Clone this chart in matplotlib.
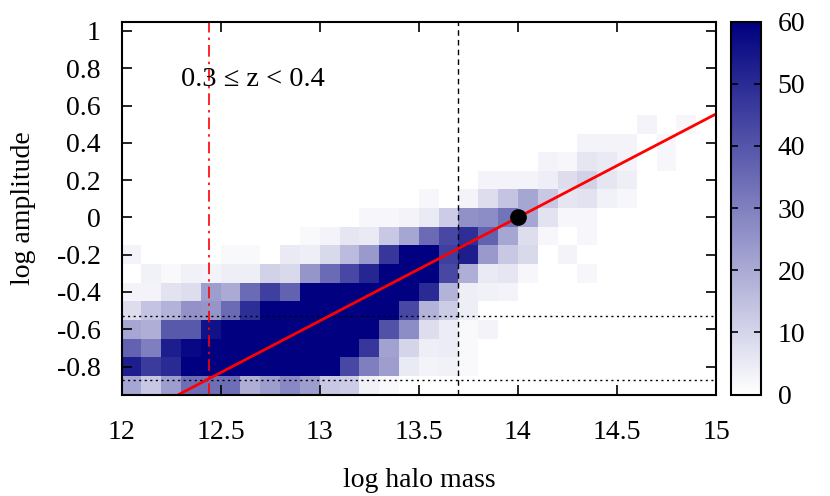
import numpy as np
import matplotlib
matplotlib.use("Agg")
from matplotlib import pyplot as plt
from matplotlib.colors import LinearSegmentedColormap

plt.rcParams['font.family'] = ['Liberation Serif', 'DejaVu Serif']
plt.rcParams['axes.unicode_minus'] = False
plt.rcParams['font.size'] = 20

# bins: 30 columns in log halo mass (12.0 .. 15.0, width 0.1)
mass_edges = np.round(np.arange(12.0, 15.001, 0.1), 2)
# rows in log amplitude, centres -0.9 .. 0.5 (width 0.1)
amp_edges = np.round(np.arange(-0.95, 0.551, 0.1), 2)

# counts per row (left to right), 75 = saturated (> 60)
row_m09 = [21, 13, 23, 34, 34, 34, 19, 23, 28, 23, 13, 12, 3.5, 1.5, 0, 0, 0, 0, 0, 0, 0, 0, 0, 0, 0, 0, 0, 0, 0, 0]
row_m08 = [53, 46, 50, 75, 75, 75, 75, 75, 75, 75, 75, 43, 30, 23, 5, 3, 3.5, 1.5, 0, 0, 0, 0, 0, 0, 0, 0, 0, 0, 0, 0]
row_m07 = [37, 30, 53, 58, 75, 75, 75, 75, 75, 75, 75, 75, 47, 22, 10, 4, 4.5, 1.5, 0, 0, 0, 0, 0, 0, 0, 0, 0, 0, 0, 0]
row_m06 = [21, 19, 39, 39, 56, 75, 75, 75, 75, 75, 75, 75, 75, 41, 27, 8, 4.5, 1.5, 3, 0, 0, 0, 0, 0, 0, 0, 0, 0, 0, 0]
row_m05 = [8, 14, 18, 25.6, 25, 35, 49, 75, 75, 75, 75, 75, 75, 75, 43, 18, 12, 4, 0, 0, 0, 0, 0, 0, 0, 0, 0, 0, 0, 0]
row_m04 = [3, 3, 7, 8, 23, 20, 35, 45, 37, 75, 75, 75, 75, 75, 75, 50, 18, 4, 3.5, 3, 0, 0, 0, 0, 0, 0, 0, 0, 0, 0]
row_m03 = [0, 3.5, 1.5, 3.5, 3, 4, 4, 11, 9, 25, 35, 43, 51, 75, 75, 75, 43, 19, 5, 6, 2, 0, 0, 2, 0, 0, 0, 0, 0, 0]
row_m02 = [3, 0, 0, 0, 0, 1.5, 1.5, 0, 5, 4, 9, 16, 24, 47, 75, 62, 45, 53, 24, 13, 9, 0, 3, 0, 0, 0, 0, 0, 0, 0]
row_m01 = [0, 0, 0, 0, 0, 0, 0, 0, 0, 1.5, 3, 6, 5, 13, 21, 35, 43, 49, 37, 21, 8, 2, 0, 2, 0, 0, 0, 0, 0, 0]
row_p00 = [0, 0, 0, 0, 0, 0, 0, 0, 0, 0, 0, 0, 2, 2, 3, 5, 12, 26, 27, 33, 21, 7, 2, 2, 0, 0, 0, 0, 0, 0]
row_p01 = [0, 0, 0, 0, 0, 0, 0, 0, 0, 0, 0, 0, 0, 0, 0, 2, 0, 3, 8, 14, 21, 13, 6, 7, 3.5, 2, 0, 0, 0, 0]
row_p02 = [0, 0, 0, 0, 0, 0, 0, 0, 0, 0, 0, 0, 0, 0, 0, 0, 0, 0, 3, 3, 3, 4, 8, 11, 6, 4, 0, 0, 0, 0]
row_p03 = [0, 0, 0, 0, 0, 0, 0, 0, 0, 0, 0, 0, 0, 0, 0, 0, 0, 0, 0, 0, 0, 3, 2, 6, 5, 3, 0, 2, 0, 0]
row_p04 = [0, 0, 0, 0, 0, 0, 0, 0, 0, 0, 0, 0, 0, 0, 0, 0, 0, 0, 0, 0, 0, 0, 0, 3, 3, 3, 0, 2, 0, 0]
row_p05 = [0, 0, 0, 0, 0, 0, 0, 0, 0, 0, 0, 0, 0, 0, 0, 0, 0, 0, 0, 0, 0, 0, 0, 0, 0, 0, 3, 0, 2, 0]

counts = np.array([row_m09, row_m08, row_m07, row_m06, row_m05, row_m04, row_m03,
                   row_m02, row_m01, row_p00, row_p01, row_p02, row_p03, row_p04, row_p05])

# reference point and fitted relation
pivot_mass, pivot_amp = 14.0, 0.0
fit_slope = 0.555
mass_cut = 12.44       # red dash-dot
mass_mid = 13.70       # black dashed
amp_cuts = [-0.53, -0.87]  # dotted

cmap = LinearSegmentedColormap.from_list('wn', ['#ffffff', '#000080'])

fig = plt.figure(figsize=(8.3, 4.96), dpi=100)
ax = fig.add_axes([0.1465, 0.2046, 0.7162, 0.7517])
cax = fig.add_axes([0.8807, 0.2046, 0.0361, 0.7517])

mesh = ax.pcolormesh(mass_edges, amp_edges, counts, cmap=cmap, vmin=0, vmax=60)

ax.axvline(mass_cut, color='red', lw=1.2, ls=(0, (7, 3, 1.5, 3)))
ax.axvline(mass_mid, color='black', lw=1.0, ls=(0, (4, 3)))
for yc in amp_cuts:
    ax.axhline(yc, color='black', lw=1.0, ls=(0, (1.5, 2.5)))

xx = np.array([12.0, 15.0])
ax.plot(xx, pivot_amp + fit_slope * (xx - pivot_mass), color='red', lw=2.0)
ax.plot([pivot_mass], [pivot_amp], 'o', color='black', ms=11, zorder=5)

ax.text(12.30, 0.74, '0.3 ≤ z < 0.4', fontsize=20.5, va='center', ha='left')

ax.set_xlim(12, 15)
ax.set_ylim(-0.95, 1.05)
ax.set_xticks([12, 12.5, 13, 13.5, 14, 14.5, 15])
ax.set_xticklabels(['12', '12.5', '13', '13.5', '14', '14.5', '15'])
yt = [-0.8, -0.6, -0.4, -0.2, 0, 0.2, 0.4, 0.6, 0.8, 1]
ax.set_yticks(yt)
ax.set_yticklabels(['-0.8', '-0.6', '-0.4', '-0.2', '0', '0.2', '0.4', '0.6', '0.8', '1'])
ax.tick_params(direction='in', length=7, width=1.2, top=True, right=True, labelsize=20)
ax.tick_params(axis='x', pad=18)
ax.tick_params(axis='y', pad=15)
for s in ax.spines.values():
    s.set_linewidth(1.5)
ax.set_xlabel('log halo mass', fontsize=20, labelpad=17)
ax.set_ylabel('log amplitude', fontsize=20, labelpad=15)

cb = fig.colorbar(mesh, cax=cax, ticks=[0, 10, 20, 30, 40, 50, 60])
cax.tick_params(direction='in', length=5, width=1.2, left=True, right=True, labelsize=20, pad=12)
for s in cax.spines.values():
    s.set_linewidth(1.5)
cb.outline.set_linewidth(1.5)

fig.savefig('out.png', dpi=100)
